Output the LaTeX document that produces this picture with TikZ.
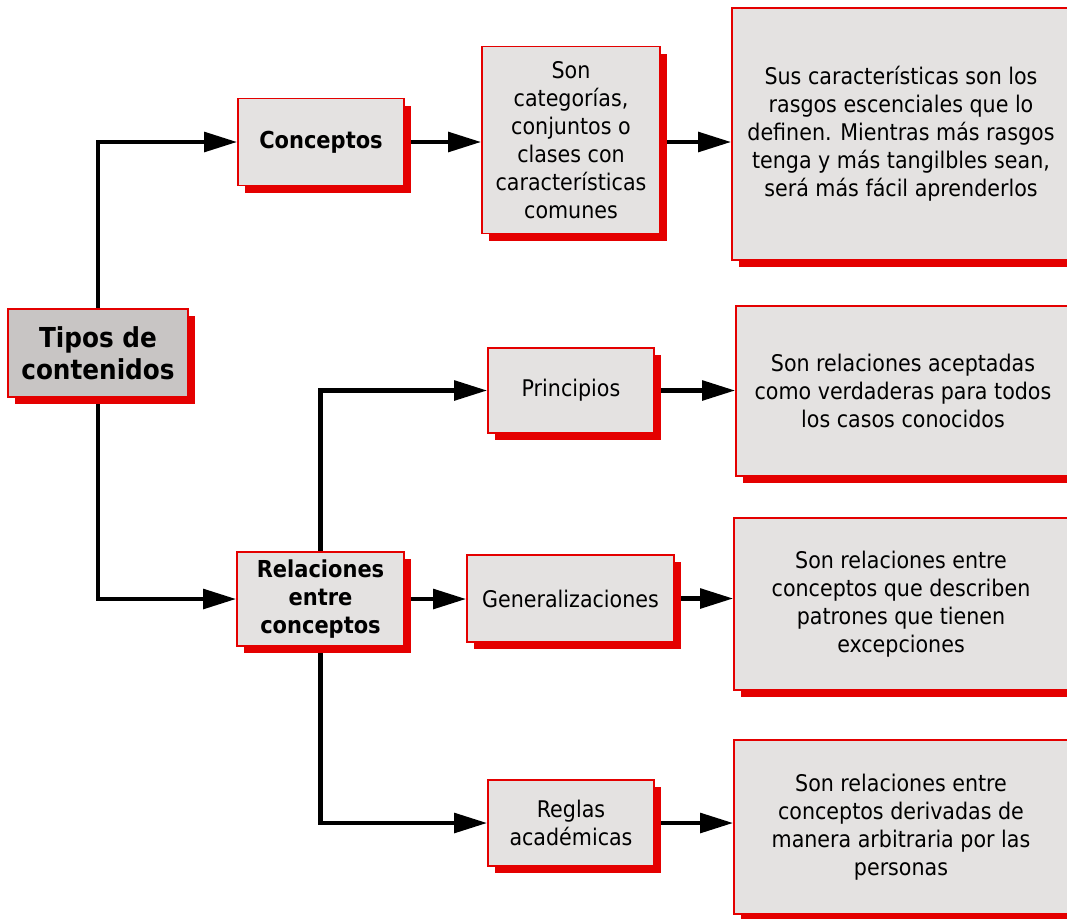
\documentclass[tikz,border=0pt]{standalone}
\usepackage{fontspec}
\setmainfont{DejaVu Sans Condensed}
\usetikzlibrary{arrows.meta,shadows,backgrounds}
\definecolor{rojo}{RGB}{228,0,0}
\definecolor{gris}{RGB}{228,226,225}
\definecolor{grisosc}{RGB}{200,197,196}
\tikzset{
  caja/.style={draw=rojo, line width=1.2pt, fill=gris, inner sep=0pt, align=center,
    general shadow={shadow xshift=5.25pt, shadow yshift=-5.25pt, fill=rojo},
    font=\fontsize{17.2}{21}\selectfont},
  negrita/.style={font=\bfseries\fontsize{17.5}{21}\selectfont},
  flecha/.style={line width=3.4pt, -{Triangle[length=24.75pt,width=14.5pt]}}
}
\begin{document}
\begin{tikzpicture}[x=0.75pt,y=-0.75pt]
\useasboundingbox (0,0) rectangle (1067,918);
\clip (0,0) rectangle (1067,918);

\node[caja, fill=grisosc, minimum width=135pt, minimum height=66pt,
  font=\bfseries\fontsize{20.6}{24}\selectfont] (tipos) at (98,353) {Tipos de\\contenidos};

% rama de conceptos
\node[caja, negrita, minimum width=124.5pt, minimum height=65.25pt] (conceptos) at (321,142) {Conceptos};
\node[caja, minimum width=133.5pt, minimum height=140.25pt] (categorias) at (571,140)
  {Son\\categorías,\\conjuntos o\\clases con\\características\\comunes};
\node[caja, minimum width=253.5pt, minimum height=189pt] (rasgos) at (901,134)
  {Sus características son los\\rasgos escenciales  que lo\\definen. Mientras más rasgos\\tenga y más tangilbles sean,\\será más fácil aprenderlos};

% rama de relaciones
\node[caja, negrita, minimum width=125.25pt, minimum height=70.5pt] (relaciones) at (320.5,599) {Relaciones\\entre\\conceptos};
\node[caja, minimum width=124.5pt, minimum height=63.75pt] (principios) at (571,390.5) {Principios};
\node[caja, minimum width=155.25pt, minimum height=65.25pt] (generalizaciones) at (570.5,598.5) {Generalizaciones};
\node[caja, minimum width=124.5pt, minimum height=64.5pt] (reglas) at (571,823) {Reglas\\académicas};

\node[caja, minimum width=250.5pt, minimum height=127.5pt] (aceptadas) at (903,391)
  {Son relaciones aceptadas\\como verdaderas para todos\\los casos conocidos};
\node[caja, minimum width=250.5pt, minimum height=129pt] (patrones) at (901,604)
  {Son relaciones entre\\conceptos que describen\\patrones que tienen\\excepciones};
\node[caja, minimum width=250.5pt, minimum height=130.5pt] (arbitraria) at (901,827)
  {Son relaciones entre\\conceptos derivadas de\\manera arbitraria por las\\personas};

\begin{scope}[on background layer]
\draw[flecha] (tipos.north) |- (conceptos.west);
\draw[flecha] (tipos.south) |- (relaciones.west);
\draw[flecha] (conceptos.east) -- (conceptos.east -| categorias.west);
\draw[flecha] (categorias.east |- conceptos.east) -- (conceptos.east -| rasgos.west);
\draw[flecha] (relaciones.north) |- (principios.west);
\draw[flecha] (relaciones.east) -- (relaciones.east -| generalizaciones.west);
\draw[flecha] (relaciones.south) |- (reglas.west);
\draw[flecha] (principios.east) -- (principios.east -| aceptadas.west);
\draw[flecha] (generalizaciones.east) -- (generalizaciones.east -| patrones.west);
\draw[flecha] (reglas.east) -- (reglas.east -| arbitraria.west);
\end{scope}
\end{tikzpicture}
\end{document}
